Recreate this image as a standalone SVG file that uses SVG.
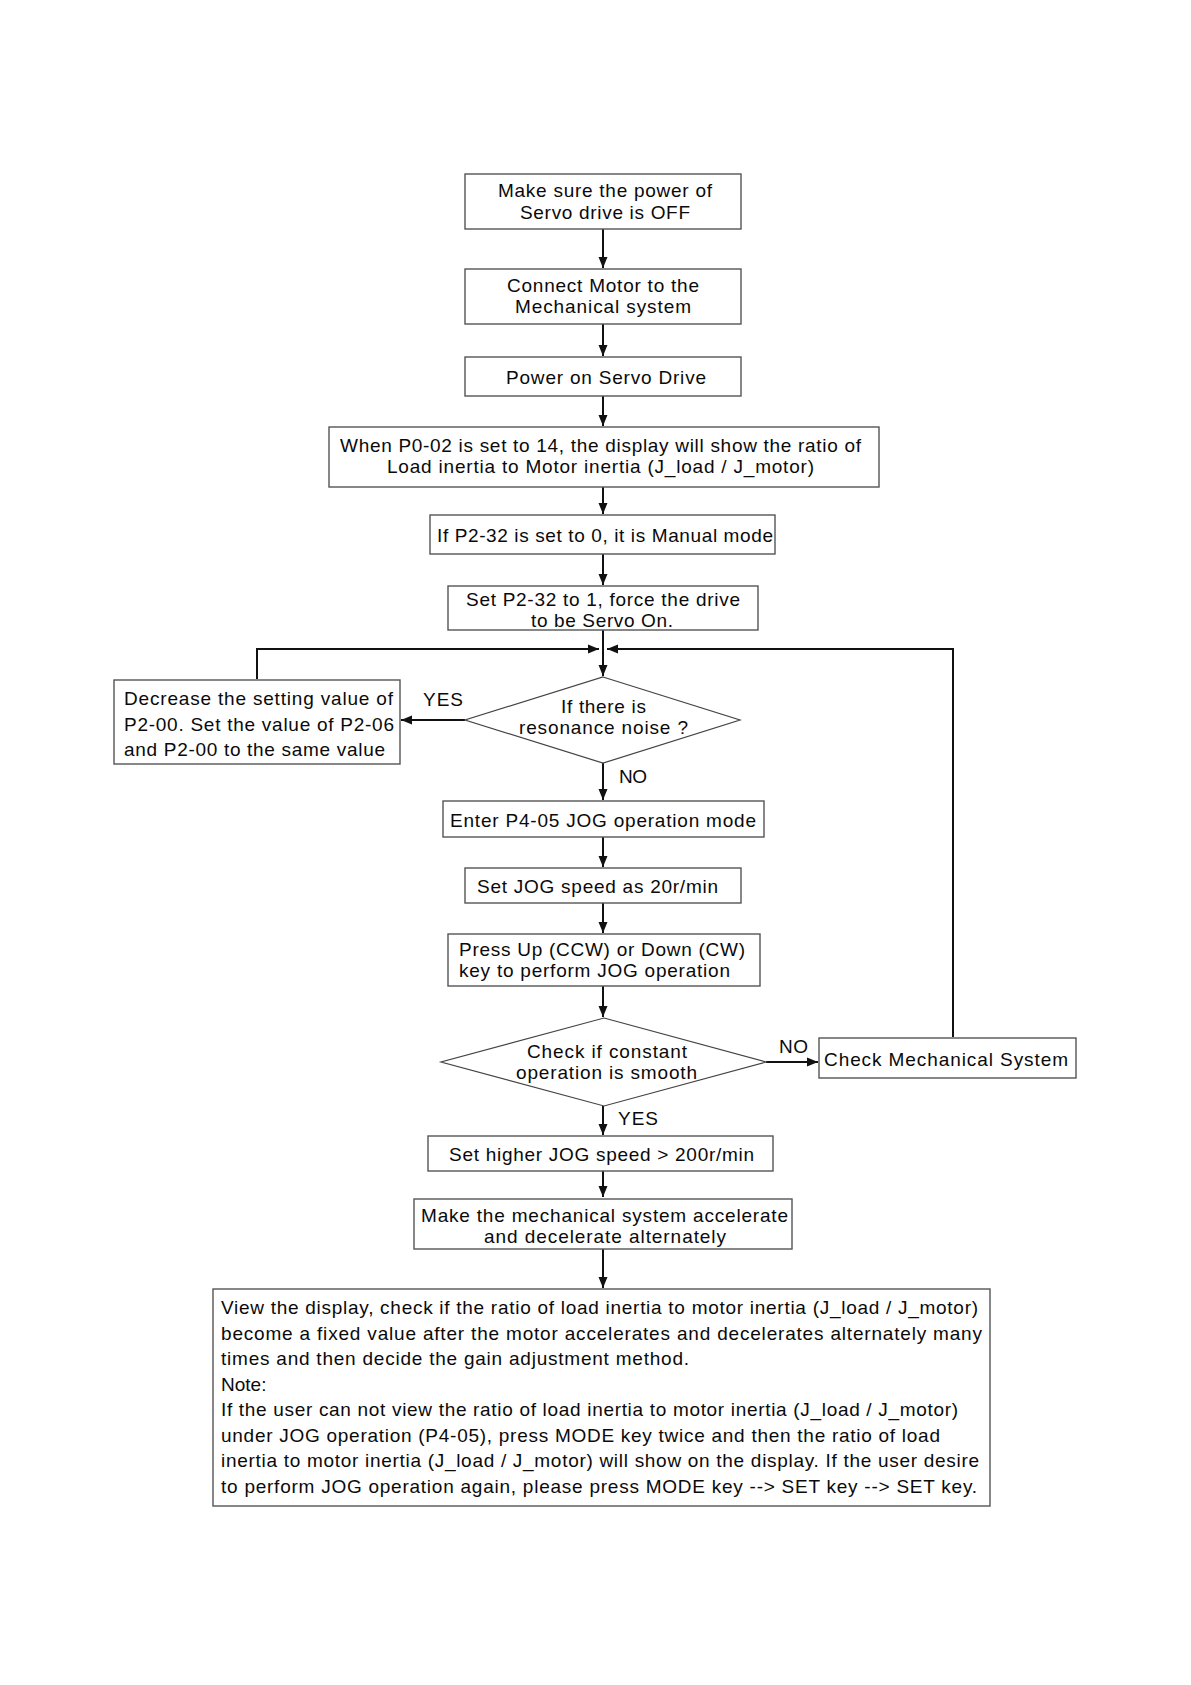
<svg xmlns="http://www.w3.org/2000/svg" width="1191" height="1685" viewBox="0 0 1191 1685">
<style>
.box{fill:#fff;stroke:#555;stroke-width:1.4}
.dia{fill:#fff;stroke:#444;stroke-width:1.2}
.t{font-family:"Liberation Sans",Arial,sans-serif;font-size:19px;fill:#0a0a0a}
.c{fill:none;stroke:#111;stroke-width:2}
</style>
<defs>
<marker id="ah" markerUnits="userSpaceOnUse" markerWidth="11" markerHeight="10" refX="11" refY="5" orient="auto">
<path d="M0,0.5 L11,5 L0,9.5 z" fill="#111"/>
</marker>
</defs>
<rect width="1191" height="1685" fill="#fff"/>
<g id="connectors">
<path class="c" d="M603,229 V268" marker-end="url(#ah)"/>
<path class="c" d="M603,324 V356" marker-end="url(#ah)"/>
<path class="c" d="M603,396 V426" marker-end="url(#ah)"/>
<path class="c" d="M603,487 V514" marker-end="url(#ah)"/>
<path class="c" d="M603,554 V585" marker-end="url(#ah)"/>
<path class="c" d="M603,630 V676" marker-end="url(#ah)"/>
<path class="c" d="M257,679 V649 H599" marker-end="url(#ah)"/>
<path class="c" d="M953,1037 V649 H607" marker-end="url(#ah)"/>
<path class="c" d="M465,720 H401" marker-end="url(#ah)"/>
<path class="c" d="M603,762 V800" marker-end="url(#ah)"/>
<path class="c" d="M603,837 V867" marker-end="url(#ah)"/>
<path class="c" d="M603,903 V933" marker-end="url(#ah)"/>
<path class="c" d="M603,986 V1017" marker-end="url(#ah)"/>
<path class="c" d="M766,1062 H818" marker-end="url(#ah)"/>
<path class="c" d="M603,1106 V1135" marker-end="url(#ah)"/>
<path class="c" d="M603,1171 V1197" marker-end="url(#ah)"/>
<path class="c" d="M603,1249 V1288" marker-end="url(#ah)"/>
</g>
<g id="n1">
<rect class="box" x="465" y="174" width="276" height="55"/>
<text class="t" x="498" y="197" textLength="214">Make sure the power of</text>
<text class="t" x="520" y="219" textLength="170">Servo drive is OFF</text>
</g>
<g id="n2">
<rect class="box" x="465" y="269" width="276" height="55"/>
<text class="t" x="507" y="292" textLength="192">Connect Motor to the</text>
<text class="t" x="515" y="313" textLength="176">Mechanical system</text>
</g>
<g id="n3">
<rect class="box" x="465" y="357" width="276" height="39"/>
<text class="t" x="506" y="384" textLength="200">Power on Servo Drive</text>
</g>
<g id="n4">
<rect class="box" x="329" y="427" width="550" height="60"/>
<text class="t" x="340" y="452" textLength="521">When P0-02 is set to 14, the display will show the ratio of</text>
<text class="t" x="387" y="473" textLength="427">Load inertia to Motor inertia (J_load / J_motor)</text>
</g>
<g id="n5">
<rect class="box" x="430" y="515" width="345" height="39"/>
<text class="t" x="437" y="542" textLength="336">If P2-32 is set to 0, it is Manual mode</text>
</g>
<g id="n6">
<rect class="box" x="448" y="586" width="310" height="44"/>
<text class="t" x="466" y="606" textLength="274">Set P2-32 to 1, force the drive</text>
<text class="t" x="531" y="627" textLength="142">to be Servo On.</text>
</g>
<g id="n7">
<rect class="box" x="114" y="680" width="286" height="84"/>
<text class="t" x="124" y="705" textLength="269">Decrease the setting value of</text>
<text class="t" x="124" y="731" textLength="270">P2-00. Set the value of P2-06</text>
<text class="t" x="124" y="756" textLength="261">and P2-00 to the same value</text>
</g>
<g id="d1">
<polygon class="dia" points="603,677 740,720 603,763 465,720"/>
<text class="t" x="561" y="713" textLength="85">If there is</text>
<text class="t" x="519" y="734" textLength="169">resonance noise ?</text>
</g>
<g id="lbl">
<text class="t" x="423" y="706" textLength="40">YES</text>
<text class="t" x="619" y="783" textLength="28">NO</text>
<text class="t" x="779" y="1053" textLength="29">NO</text>
<text class="t" x="618" y="1125" textLength="40">YES</text>
</g>
<g id="n8">
<rect class="box" x="443" y="801" width="321" height="36"/>
<text class="t" x="450" y="827" textLength="306">Enter P4-05 JOG operation mode</text>
</g>
<g id="n9">
<rect class="box" x="465" y="868" width="276" height="35"/>
<text class="t" x="477" y="893" textLength="241">Set JOG speed as 20r/min</text>
</g>
<g id="n10">
<rect class="box" x="448" y="934" width="312" height="52"/>
<text class="t" x="459" y="956" textLength="286">Press Up (CCW) or Down (CW)</text>
<text class="t" x="459" y="977" textLength="271">key to perform JOG operation</text>
</g>
<g id="d2">
<polygon class="dia" points="604,1018 766,1062 604,1106 441,1062"/>
<text class="t" x="527" y="1058" textLength="160">Check if constant</text>
<text class="t" x="516" y="1079" textLength="181">operation is smooth</text>
</g>
<g id="n11">
<rect class="box" x="819" y="1038" width="257" height="40"/>
<text class="t" x="824" y="1066" textLength="244">Check Mechanical System</text>
</g>
<g id="n12">
<rect class="box" x="428" y="1136" width="345" height="35"/>
<text class="t" x="449" y="1161" textLength="305">Set higher JOG speed &gt; 200r/min</text>
</g>
<g id="n13">
<rect class="box" x="414" y="1199" width="378" height="50"/>
<text class="t" x="421" y="1222" textLength="367">Make the mechanical system accelerate</text>
<text class="t" x="484" y="1243" textLength="242">and decelerate alternately</text>
</g>
<g id="n14">
<rect class="box" x="213" y="1289" width="777" height="217"/>
<text class="t" x="221" y="1314" textLength="757">View the display, check if the ratio of load inertia to motor inertia (J_load / J_motor)</text>
<text class="t" x="221" y="1339.5" textLength="761">become a fixed value after the motor accelerates and decelerates alternately many</text>
<text class="t" x="221" y="1365" textLength="468">times and then decide the gain adjustment method.</text>
<text class="t" x="221" y="1390.5">Note:</text>
<text class="t" x="221" y="1416" textLength="737">If the user can not view the ratio of load inertia to motor inertia (J_load / J_motor)</text>
<text class="t" x="221" y="1441.5" textLength="719">under JOG operation (P4-05), press MODE key twice and then the ratio of load</text>
<text class="t" x="221" y="1467" textLength="758">inertia to motor inertia (J_load / J_motor) will show on the display. If the user desire</text>
<text class="t" x="221" y="1492.5" textLength="756">to perform JOG operation again, please press MODE key --&gt; SET key --&gt; SET key.</text>
</g>
</svg>
